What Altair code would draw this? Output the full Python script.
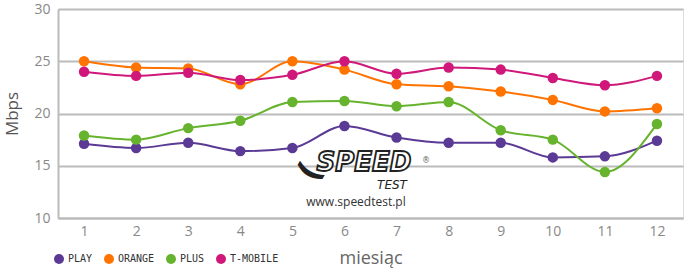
import altair as alt
import pandas as pd

months = list(range(1, 13))
operators = ["PLAY", "ORANGE", "PLUS", "T-MOBILE"]
colors = ["#5b3a96", "#ff7300", "#66b32e", "#d0187b"]
play = [17.1, 16.7, 17.2, 16.4, 16.7, 18.8, 17.7, 17.2, 17.2, 15.8, 15.9, 17.4]
orange = [25.0, 24.4, 24.3, 22.8, 25.0, 24.2, 22.8, 22.6, 22.1, 21.3, 20.2, 20.5]
plus = [17.9, 17.5, 18.6, 19.3, 21.1, 21.2, 20.7, 21.1, 18.4, 17.5, 14.4, 19.0]
tmobile = [24.0, 23.6, 23.9, 23.2, 23.7, 25.0, 23.8, 24.4, 24.2, 23.4, 22.7, 23.6]

rows = []
for name, vals in zip(operators, [play, orange, plus, tmobile]):
    for m, v in zip(months, vals):
        rows.append({"miesiac": m, "Mbps": v, "op": name})
df = pd.DataFrame(rows)

xscale = alt.Scale(domain=[0.5, 12.5], nice=False, zero=False)
yscale = alt.Scale(domain=[10, 30], nice=False, zero=False)
cscale = alt.Scale(domain=operators, range=colors)

xax = alt.Axis(values=months, title="miesiąc", grid=False, ticks=False,
               domainColor="#bbbbbb", domainWidth=2, labelColor="#888888",
               labelFontSize=14, labelPadding=6, titleFontSize=18,
               titleFontWeight="normal", titleColor="#666666", titlePadding=11,
               labelFont="Open Sans", titleFont="Open Sans")
yax = alt.Axis(values=[10, 15, 20, 25, 30], title="Mbps", grid=True,
               gridColor="#bbbbbb", gridWidth=2, ticks=False,
               domainColor="#bbbbbb", domainWidth=2, labelColor="#888888",
               labelFontSize=14, labelPadding=8, titleFontSize=17,
               titleFontWeight="normal", titleColor="#555555", titlePadding=12,
               labelFont="Open Sans", titleFont="Open Sans")

base = alt.Chart(df).encode(
    x=alt.X("miesiac:Q", scale=xscale, axis=xax),
    y=alt.Y("Mbps:Q", scale=yscale, axis=yax),
    color=alt.Color("op:N", scale=cscale, sort=operators,
                    legend=alt.Legend(title=None, orient="none", direction="horizontal",
                                      legendX=-4, legendY=245, symbolType="circle",
                                      symbolSize=100, symbolStrokeWidth=0,
                                      labelFont="DejaVu Sans Mono", labelFontSize=10,
                                      labelColor="#333333", columnPadding=11,
                                      symbolOffset=0, labelOffset=4)),
)

lines = base.mark_line(interpolate="monotone", strokeWidth=2)
points = base.mark_circle(size=110, opacity=1)

wm = pd.DataFrame({"t": ["SPEED"]})
logo1 = alt.Chart(wm).mark_text(text="SPEED", font="DejaVu Sans", fontSize=26,
                                fontStyle="italic", fontWeight="bold", color="#ffffff",
                                stroke="#222222", strokeWidth=1.8,
                                align="center", baseline="middle").encode(
    x=alt.value(306), y=alt.value(154))
swoosh = alt.Chart(wm).mark_text(text="(", font="DejaVu Sans", fontSize=32,
                                 fontWeight="bold", color="#222222",
                                 align="center", baseline="middle", angle=300).encode(
    x=alt.value(252), y=alt.value(163))
logo2 = alt.Chart(wm).mark_text(text="TEST", font="DejaVu Sans", fontSize=12,
                                fontStyle="italic", color="#222222",
                                align="center", baseline="middle").encode(
    x=alt.value(334), y=alt.value(176))
logo3 = alt.Chart(wm).mark_text(text="www.speedtest.pl", font="Open Sans", fontSize=12,
                                color="#333333", align="center", baseline="middle").encode(
    x=alt.value(298), y=alt.value(193))
logo4 = alt.Chart(wm).mark_text(text="®", font="DejaVu Sans", fontSize=8,
                                color="#666666", align="center", baseline="middle").encode(
    x=alt.value(368), y=alt.value(152))

chart = alt.layer(lines, points, swoosh, logo1, logo2, logo3, logo4).properties(
    width=625, height=209,
    autosize=alt.AutoSizeParams(type="none"),
    padding={"left": 58, "top": 9, "right": 15, "bottom": 54},
).configure_view(stroke=None).configure(background="white")

chart.save("out.html", embed_options={"renderer": "svg", "actions": False})
